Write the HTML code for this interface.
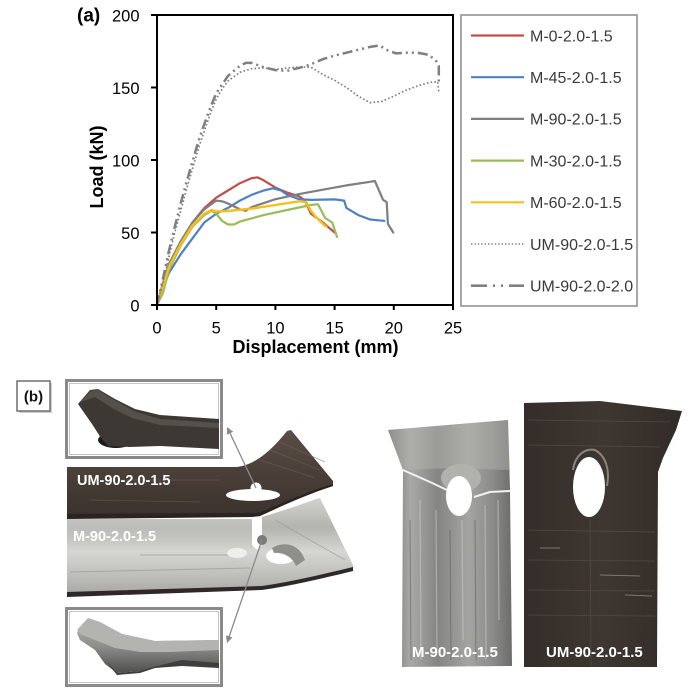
<!DOCTYPE html>
<html><head><meta charset="utf-8"><style>
html,body{margin:0;padding:0;background:#fff;}
svg{display:block;}
text{font-family:"Liberation Sans",Arial,sans-serif;}
</style></head><body>
<svg width="688" height="694" viewBox="0 0 688 694" xmlns="http://www.w3.org/2000/svg">
<defs>
 <linearGradient id="silv" x1="0" y1="0" x2="0" y2="1">
  <stop offset="0" stop-color="#d2d2ce"/>
  <stop offset="0.3" stop-color="#b4b4af"/>
  <stop offset="0.55" stop-color="#d6d6d2"/>
  <stop offset="0.8" stop-color="#bdbdb9"/>
  <stop offset="1" stop-color="#a5a5a1"/>
 </linearGradient>
 <linearGradient id="silv2" x1="0" y1="0" x2="1" y2="0">
  <stop offset="0" stop-color="#6e6e6c"/>
  <stop offset="0.18" stop-color="#a9a9a6"/>
  <stop offset="0.4" stop-color="#858583"/>
  <stop offset="0.65" stop-color="#a4a4a1"/>
  <stop offset="0.85" stop-color="#8a8a88"/>
  <stop offset="1" stop-color="#6c6c6a"/>
 </linearGradient>
 <linearGradient id="silvTop" x1="0" y1="0" x2="0" y2="1">
  <stop offset="0" stop-color="#c9c9c6" stop-opacity="0.9"/>
  <stop offset="1" stop-color="#c9c9c6" stop-opacity="0"/>
 </linearGradient>
 <linearGradient id="darkStrip" x1="0" y1="0" x2="0" y2="1">
  <stop offset="0" stop-color="#5a4e46"/>
  <stop offset="0.5" stop-color="#4a3f38"/>
  <stop offset="1" stop-color="#3a312c"/>
 </linearGradient>
 <linearGradient id="darkPlate" x1="0" y1="0" x2="1" y2="0">
  <stop offset="0" stop-color="#342d29"/>
  <stop offset="0.5" stop-color="#3e3631"/>
  <stop offset="1" stop-color="#322b27"/>
 </linearGradient>
 <linearGradient id="insetSilver" x1="0" y1="0" x2="0" y2="1">
  <stop offset="0" stop-color="#b8b8b5"/>
  <stop offset="0.5" stop-color="#8f8f8c"/>
  <stop offset="1" stop-color="#4e4e4c"/>
 </linearGradient>
</defs>

<!-- ================= CHART (a) ================= -->
<text x="77" y="21.5" font-size="19" font-weight="bold" fill="#000">(a)</text>

<!-- y tick labels -->
<g font-size="16.5" fill="#000" text-anchor="end">
 <text x="139.5" y="21.5">200</text>
 <text x="139.5" y="94">150</text>
 <text x="139.5" y="166.5">100</text>
 <text x="139.5" y="239">50</text>
 <text x="139.5" y="311.5">0</text>
</g>
<!-- x tick labels -->
<g font-size="16.5" fill="#000" text-anchor="middle">
 <text x="157" y="333.5">0</text>
 <text x="216.2" y="333.5">5</text>
 <text x="275.4" y="333.5">10</text>
 <text x="334.6" y="333.5">15</text>
 <text x="393.8" y="333.5">20</text>
 <text x="453" y="333.5">25</text>
</g>
<text x="315.5" y="353" font-size="18" font-weight="bold" text-anchor="middle" fill="#000">Displacement (mm)</text>
<text transform="translate(103,167) rotate(-90)" font-size="18" font-weight="bold" text-anchor="middle" fill="#000">Load (kN)</text>

<!-- series -->
<g fill="none" stroke-linejoin="round" stroke-linecap="round">
 <polyline stroke="#c0504d" stroke-width="2.2" points="157,305 162.9,283.3 168.8,264.4 180.7,244.1 192.5,222.4 204.4,207.9 216.2,197.7 228,190.5 239.9,183.2 251.7,178.1 257.6,177.4 263.6,180.3 275.4,187.6 287.2,192.6 299.1,196.3 305,200.6 310.9,213.7 322.8,222.4 334.6,232.5"/>
 <polyline stroke="#4f81bd" stroke-width="2.2" points="157,305 168.8,273.1 180.7,254.3 192.5,238.3 204.4,222.4 216.2,213.7 228,207.9 239.9,200.6 251.7,194.8 263.6,190.5 273,188.3 281.3,190.5 287.2,194.8 299.1,199.2 310.9,199.9 334.6,199.4 344.1,200.6 346.4,207.9 358.3,215.1 370.1,219.5 384.3,220.9"/>
 <polyline stroke="#7f7f7f" stroke-width="2.2" points="157,305 168.8,264.4 180.7,241.2 192.5,222.4 204.4,209.3 216.2,200.6 222.1,201.3 228,203.5 239.9,209.3 245.8,210.8 251.7,207.1 275.4,199.2 299.1,194.1 322.8,189.7 346.4,185.4 370.1,181.8 374.9,181 383.1,199.9 386.7,202.1 387.9,223.8 393.2,232.5"/>
 <polyline stroke="#9bbb59" stroke-width="2.2" points="157,305 162.9,293.4 168.8,270.2 180.7,245.6 192.5,226.7 204.4,215.1 211.5,210.8 216.2,213.7 222.1,220.9 228,224.5 234,224.5 239.9,221.6 263.6,215.1 287.2,210 310.9,205 318,204.2 325.1,218 332.2,222.4 337,236.9"/>
 <polyline stroke="#f5c01a" stroke-width="2.4" points="157,305 168.8,267.3 180.7,244.1 192.5,225.3 204.4,213.7 211.5,210 216.2,211.5 228,211 251.7,208.6 275.4,205 299.1,201.3 306.2,202 310.9,210.8 316.8,218 322.8,223.8 326.3,226.7"/>
 <polyline stroke="#7f7f7f" stroke-width="1.7" stroke-linecap="butt" stroke-dasharray="1.6 2.2" points="157,305 162.9,283.3 168.8,257.2 174.8,232.5 180.7,210.8 186.6,189 192.5,168.7 198.4,148.4 204.4,131 210.3,113.6 216.2,99.1 222.1,89 228,81 239.9,72.3 251.7,68.7 263.6,67.9 275.4,69.4 287.2,67.9 299.1,67.2 310.9,67.2 322.8,74.5 334.6,80.3 346.4,87.5 358.3,96.2 370.1,102.7 382,101.3 393.8,96.2 405.6,90.4 417.5,86 429.3,82.4 437.6,81.7 438.8,91.9"/>
 <polyline stroke="#7f7f7f" stroke-width="2.5" stroke-linecap="butt" stroke-dasharray="10 4 2 4 2 4" points="157,305 162.9,278.9 168.8,251.4 174.8,226.7 180.7,203.5 186.6,181.8 192.5,161.5 198.4,141.2 204.4,123.8 210.3,107.8 216.2,93.3 228,75.9 239.9,65.8 245.8,62.9 251.7,62.9 257.6,65 263.6,67.2 275.4,70.1 287.2,70.8 299.1,67.9 310.9,64.3 322.8,59.2 334.6,55.6 346.4,52.7 358.3,49.8 370.1,46.9 379.6,45.5 387.9,50.5 396.2,53.4 405.6,52.7 417.5,52.7 429.3,54.9 436.4,61.4 438.8,65.8 438.8,84.6"/>
</g>

<!-- axes box & ticks -->
<rect x="157" y="15" width="296" height="290" fill="none" stroke="#000" stroke-width="2"/>
<g stroke="#000" stroke-width="2">
 <line x1="151" y1="15" x2="157" y2="15"/>
 <line x1="151" y1="87.5" x2="157" y2="87.5"/>
 <line x1="151" y1="160" x2="157" y2="160"/>
 <line x1="151" y1="232.5" x2="157" y2="232.5"/>
 <line x1="151" y1="305" x2="157" y2="305"/>
 <line x1="157" y1="305" x2="157" y2="310"/>
 <line x1="216.2" y1="305" x2="216.2" y2="310"/>
 <line x1="275.4" y1="305" x2="275.4" y2="310"/>
 <line x1="334.6" y1="305" x2="334.6" y2="310"/>
 <line x1="393.8" y1="305" x2="393.8" y2="310"/>
 <line x1="453" y1="305" x2="453" y2="310"/>
</g>

<!-- legend -->
<rect x="461" y="15" width="176" height="291" fill="#fff" stroke="#8c8c8c" stroke-width="1.5"/>
<g stroke-width="2.2">
 <line x1="471" y1="35.5" x2="524" y2="35.5" stroke="#c0504d"/>
 <line x1="471" y1="77.2" x2="524" y2="77.2" stroke="#4f81bd"/>
 <line x1="471" y1="118.9" x2="524" y2="118.9" stroke="#7f7f7f"/>
 <line x1="471" y1="160.6" x2="524" y2="160.6" stroke="#9bbb59"/>
 <line x1="471" y1="202.3" x2="524" y2="202.3" stroke="#f5c01a"/>
 <line x1="471" y1="244" x2="524" y2="244" stroke="#7f7f7f" stroke-width="1.5" stroke-dasharray="1.4 2"/>
 <line x1="471" y1="285.7" x2="487" y2="285.7" stroke="#7f7f7f" stroke-width="2.6"/>
 <line x1="493" y1="285.7" x2="495" y2="285.7" stroke="#7f7f7f" stroke-width="2.6"/>
 <line x1="501" y1="285.7" x2="503" y2="285.7" stroke="#7f7f7f" stroke-width="2.6"/>
 <line x1="509" y1="285.7" x2="524" y2="285.7" stroke="#7f7f7f" stroke-width="2.6"/>
</g>
<g font-size="16" fill="#3a3a3a">
 <text x="530" y="41.3">M-0-2.0-1.5</text>
 <text x="530" y="83">M-45-2.0-1.5</text>
 <text x="530" y="124.7">M-90-2.0-1.5</text>
 <text x="530" y="166.4">M-30-2.0-1.5</text>
 <text x="530" y="208.1">M-60-2.0-1.5</text>
 <text x="530" y="249.8">UM-90-2.0-1.5</text>
 <text x="530" y="291.5">UM-90-2.0-2.0</text>
</g>

<!-- ================= PHOTOS (b) ================= -->
<rect x="19" y="383" width="33" height="30" fill="#cfcfcf"/>
<rect x="17" y="381" width="33" height="30" fill="#fff" stroke="#6f6f6f" stroke-width="1.5"/>
<text x="33.5" y="401.5" font-size="15" font-weight="bold" text-anchor="middle" fill="#111">(b)</text>

<!-- top inset -->
<rect x="66.5" y="380.5" width="155" height="77" fill="#fff" stroke="#8a8a8a" stroke-width="3"/>
<rect x="69.5" y="383.5" width="149" height="71" fill="none" stroke="#c4c4c4" stroke-width="1"/>
<ellipse cx="116" cy="440" rx="18" ry="8" fill="#1d1a18"/>
<path d="M78,404 L90,390 L98,389 L115,399 L135,409 L160,415 L219,419 L219,449 L160,446 L130,447 L108,446 L101,438 L92,424 Z" fill="#3d3833"/>
<path d="M80,402 L91,391 L98,390 L116,401 L136,412 L160,419 L219,423 L219,428 L160,425 L132,418 L112,408 L95,397 Z" fill="#55504a"/>

<!-- bottom inset -->
<rect x="66.5" y="608.5" width="155" height="77" fill="#fff" stroke="#8a8a8a" stroke-width="3"/>
<rect x="69.5" y="611.5" width="149" height="71" fill="none" stroke="#c4c4c4" stroke-width="1"/>
<path d="M88,618 L100,622 L122,634 L155,641 L219,640 L219,668 L182,664 L160,667 L140,671 L117,673 L105,664 L95,650 L80,640 L77,633 Z" fill="url(#insetSilver)"/>
<path d="M88,618 L100,622 L122,634 L155,641 L219,640 L219,650 L170,652 L140,652 L115,648 L95,640 L80,634 L77,630 Z" fill="#b3b3b0"/>
<path d="M105,660 L117,673 L140,671 L165,664 L182,660 L219,663 L219,668 L182,666 L155,668 L140,673 L117,675 Z" fill="#3e3e3c"/>

<!-- UM strip (dark) -->
<path d="M67,467 L237,467 C255,465 272,450 287,431 L291,430 L333,481 L333,486 C305,495 282,506 258,516 L67,518 Z" fill="url(#darkStrip)"/>
<g stroke="#6e6359" stroke-width="0.7" opacity="0.6">
 <line x1="270" y1="450" x2="320" y2="470"/>
 <line x1="280" y1="442" x2="325" y2="462"/>
 <line x1="260" y1="460" x2="315" y2="478"/>
 <line x1="120" y1="480" x2="220" y2="480"/>
 <line x1="90" y1="500" x2="200" y2="502"/>
</g>
<path d="M67,514 L258,513 C282,504 305,492 333,484 L333,486 C305,495 282,506 258,517 L67,519 Z" fill="#2a2320"/>
<ellipse cx="253" cy="495" rx="27" ry="6" fill="#fff"/>
<text x="77" y="485" font-size="14.5" font-weight="bold" fill="#fff">UM-90-2.0-1.5</text>

<!-- M strip (silver) -->
<path d="M67,519 L252,519 L252,545 L262,545 L262,517 C285,510 300,505 316,499 L320,498 L353,565 L353,570 C320,578 290,585 262,589 L67,596 Z" fill="url(#silv)"/>
<path d="M67,519 L252,519 L252,548 L67,548 Z" fill="url(#silvTop)" opacity="0.6"/>
<g stroke="#9a9a96" stroke-width="1" opacity="0.7">
 <line x1="70" y1="572" x2="250" y2="568"/>
 <line x1="140" y1="555" x2="240" y2="555"/>
 <line x1="275" y1="520" x2="345" y2="560"/>
</g>
<path d="M67,592 L262,586 C290,582 320,575 353,567 L353,571 C320,579 290,586 262,590 L67,597 Z" fill="#2e2926"/>
<path d="M252,517 L262,516 L262,545 L257,550 L252,545 Z" fill="#fff"/>
<ellipse cx="281" cy="556" rx="15" ry="8" fill="#fff"/>
<ellipse cx="237" cy="553" rx="10" ry="5" fill="#eeeeec"/>
<path d="M272,548 C285,540 300,545 305,560 L296,566 C292,556 282,552 274,553 Z" fill="#8e8e8a"/>
<text x="73" y="541" font-size="14.5" font-weight="bold" fill="#fff">M-90-2.0-1.5</text>

<!-- dots & arrows -->
<circle cx="256" cy="488" r="5.5" fill="#fff"/>
<circle cx="262" cy="540" r="5" fill="#7a7a7a"/>
<g stroke="#8a8a8a" stroke-width="1.3" fill="none">
 <line x1="256" y1="488" x2="228" y2="429"/>
 <line x1="262" y1="540" x2="228" y2="640"/>
</g>
<polygon points="227,427 233.2,431.8 226.9,434.8" fill="#8a8a8a"/>
<polygon points="227,643 232.5,637.5 225.9,635.3" fill="#8a8a8a"/>

<!-- right: silver plate -->
<path d="M388,430 L508,420 L510,490 L512,666 L402,667 L403,470 Z" fill="url(#silv2)"/>
<path d="M388,430 L508,420 L510,470 L450,468 L403,470 Z" fill="#b5b5b2" opacity="0.45"/>
<g stroke="#c8c8c6" stroke-width="1.2" opacity="0.6">
 <line x1="420" y1="500" x2="421" y2="660"/>
 <line x1="436" y1="510" x2="437" y2="650"/>
 <line x1="462" y1="520" x2="463" y2="640"/>
 <line x1="485" y1="505" x2="486" y2="660"/>
 <line x1="498" y1="500" x2="499" y2="620"/>
</g>
<g stroke="#5e5e5c" stroke-width="1" opacity="0.6">
 <line x1="410" y1="520" x2="411" y2="660"/>
 <line x1="450" y1="530" x2="451" y2="660"/>
 <line x1="475" y1="520" x2="476" y2="660"/>
</g>
<ellipse cx="461" cy="478" rx="20" ry="14" fill="#b1b1ae"/>
<polyline points="403,470 430,482 447,490" stroke="#f2f2f2" stroke-width="2" fill="none"/>
<polyline points="510,491 490,492 474,497" stroke="#f2f2f2" stroke-width="2" fill="none"/>
<ellipse cx="459" cy="496" rx="13" ry="20" fill="#fff"/>

<!-- right: dark plate -->
<path d="M524,403 L600,401 L682,411 L676,430 L663,458 L658,472 L657,667 L524,667 Z" fill="url(#darkPlate)"/>
<g stroke="#5c534c" stroke-width="0.8" opacity="0.7">
 <line x1="528" y1="420" x2="670" y2="422"/>
 <line x1="528" y1="445" x2="660" y2="447"/>
 <line x1="528" y1="530" x2="655" y2="532"/>
 <line x1="528" y1="560" x2="655" y2="561"/>
 <line x1="528" y1="590" x2="655" y2="591"/>
 <line x1="528" y1="615" x2="655" y2="616"/>
 <line x1="590" y1="520" x2="591" y2="665"/>
</g>
<g stroke="#a8a29c" stroke-width="1" opacity="0.6">
 <line x1="540" y1="548" x2="560" y2="548"/>
 <line x1="600" y1="575" x2="640" y2="576"/>
 <line x1="625" y1="595" x2="652" y2="596"/>
</g>
<path d="M573,470 C575,455 585,448 595,450 C606,456 610,470 607,486" stroke="#9c9893" stroke-width="2" fill="none" opacity="0.8"/>
<ellipse cx="589" cy="487" rx="16" ry="30" fill="#fff"/>
<text x="412" y="657" font-size="15" font-weight="bold" fill="#fff">M-90-2.0-1.5</text>
<text x="546" y="657" font-size="15" font-weight="bold" fill="#fff">UM-90-2.0-1.5</text>
</svg>
</body></html>
